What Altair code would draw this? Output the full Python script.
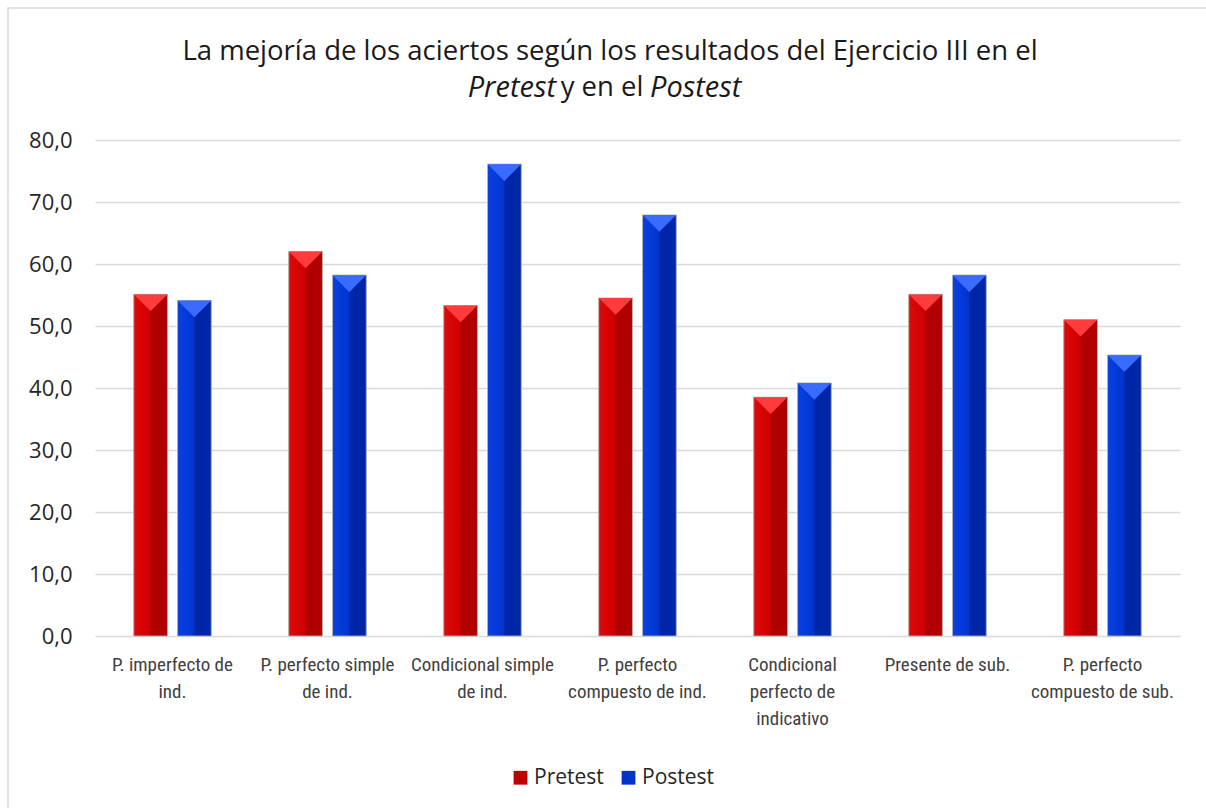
import altair as alt
import pandas as pd

# Tenses evaluated in Ejercicio III (line breaks as shown under the axis)
categorias = [
    "P. imperfecto de\nind.",
    "P. perfecto simple\nde ind.",
    "Condicional simple\nde ind.",
    "P. perfecto\ncompuesto de ind.",
    "Condicional\nperfecto de\nindicativo",
    "Presente de sub.",
    "P. perfecto\ncompuesto de sub.",
]
pretest = [55.1, 62.0, 53.3, 54.5, 38.5, 55.1, 51.0]
postest = [54.1, 58.2, 76.1, 67.9, 40.8, 58.2, 45.3]
series = ["Pretest", "Postest"]

rows = []
for cat, a, b in zip(categorias, pretest, postest):
    rows.append({"categoria": cat, "serie": "Pretest", "valor": a})
    rows.append({"categoria": cat, "serie": "Postest", "valor": b})
df = pd.DataFrame(rows)

W, H = 1085, 496
FONT_MAIN = "Open Sans"
FONT_AXIS = "'Roboto Condensed', 'Liberation Sans Narrow', 'DejaVu Sans Condensed', sans-serif"

x_enc = alt.X(
    "categoria:N",
    sort=categorias,
    scale=alt.Scale(paddingInner=0.5, paddingOuter=0.25),
    axis=alt.Axis(
        title=None,
        labelAngle=0,
        labelExpr="split(datum.label, '\\n')",
        labelFont=FONT_AXIS,
        labelFontSize=19,
        labelLineHeight=27,
        labelColor="#404040",
        labelPadding=19,
        domain=False,
        ticks=False,
        grid=False,
        labelLimit=200,
    ),
)
xoff = alt.XOffset("serie:N", sort=series, scale=alt.Scale(paddingInner=0.23, paddingOuter=0))
y_enc = alt.Y(
    "valor:Q",
    scale=alt.Scale(domain=[0, 80], nice=False),
    axis=alt.Axis(
        title=None,
        values=[0, 10, 20, 30, 40, 50, 60, 70, 80],
        labelExpr="replace(format(datum.value, '.1f'), '.', ',')",
        labelFont=FONT_MAIN,
        labelFontSize=22,
        labelColor="#262626",
        labelPadding=23,
        domain=False,
        ticks=False,
        gridColor="#d9d9d9",
        gridWidth=1.3,
    ),
)

base = alt.Chart(df)

# flat bars carry the legend
bars = base.mark_bar(stroke="#c8c8c8", strokeWidth=0.8).encode(
    x=x_enc,
    xOffset=xoff,
    y=y_enc,
    color=alt.Color(
        "serie:N",
        sort=series,
        scale=alt.Scale(domain=series, range=["#c00000", "#0033cc"]),
        legend=alt.Legend(
            title=None,
            orient="none",
            direction="horizontal",
            legendX=415,
            legendY=627,
            symbolType="square",
            symbolSize=190,
            symbolStrokeWidth=0,
            labelFont=FONT_MAIN,
            labelFontSize=21,
            labelColor="#262626",
            columnPadding=14,
            labelOffset=3,
        ),
    ),
)


def shaded(serie, light, mid, dark):
    grad = alt.Gradient(
        gradient="linear",
        x1=0, x2=1, y1=0, y2=0,
        stops=[
            alt.GradientStop(offset=0, color=light),
            alt.GradientStop(offset=0.48, color=mid),
            alt.GradientStop(offset=0.52, color=dark),
            alt.GradientStop(offset=1, color=dark),
        ],
    )
    return base.transform_filter(alt.datum.serie == serie).mark_bar(
        color=grad, stroke="#bdbdbd", strokeWidth=0.8
    ).encode(x=x_enc, xOffset=xoff, y=y_enc)


def cap(serie, fill):
    return base.transform_filter(alt.datum.serie == serie).mark_point(
        shape="M-1,0L1,0L0,1Z", filled=True, fill=fill, opacity=1,
        size=1120, strokeWidth=0,
    ).encode(x=x_enc, xOffset=xoff, y=y_enc)


# chart frame (its right and bottom edges run past the canvas) and title
frame = alt.Chart(pd.DataFrame({"k": [0]})).mark_rect(
    fill="transparent", stroke="#d9d9d9", strokeWidth=1.5
).encode(x=alt.value(-87), x2=alt.value(1140), y=alt.value(-132), y2=alt.value(700))

title_df = pd.DataFrame({"k": [0]})
t1 = alt.Chart(title_df).mark_text(
    text="La mejoría de los aciertos según los resultados del Ejercicio III en el",
    font=FONT_MAIN, fontSize=27.5, color="#1a1a1a", align="center", baseline="middle",
).encode(x=alt.value(515), y=alt.value(-88))
t2a = alt.Chart(title_df).mark_text(
    text="Pretest", font=FONT_MAIN, fontSize=29, fontStyle="italic",
    color="#1a1a1a", align="right", baseline="middle",
).encode(x=alt.value(461), y=alt.value(-52))
t2b = alt.Chart(title_df).mark_text(
    text="y en el", font=FONT_MAIN, fontSize=27.5,
    color="#1a1a1a", align="center", baseline="middle",
).encode(x=alt.value(507), y=alt.value(-52))
t2c = alt.Chart(title_df).mark_text(
    text="Postest", font=FONT_MAIN, fontSize=29, fontStyle="italic",
    color="#1a1a1a", align="left", baseline="middle",
).encode(x=alt.value(555), y=alt.value(-52))

chart = alt.layer(
    frame,
    bars,
    shaded("Pretest", "#dc0a0a", "#d00000", "#b00000"),
    shaded("Postest", "#0a40e0", "#0035d0", "#0026a8"),
    cap("Pretest", "#ff3b3b"),
    cap("Postest", "#3a6bff"),
    t1, t2a, t2b, t2c,
).properties(
    width=W,
    height=H,
    background="white",
    autosize=alt.AutoSizeParams(type="none"),
    padding={"left": 95, "top": 140, "right": 26, "bottom": 172},
).configure_view(
    stroke="transparent", strokeWidth=0
)

chart.save("out.html", embed_options={"renderer": "svg", "actions": False})
